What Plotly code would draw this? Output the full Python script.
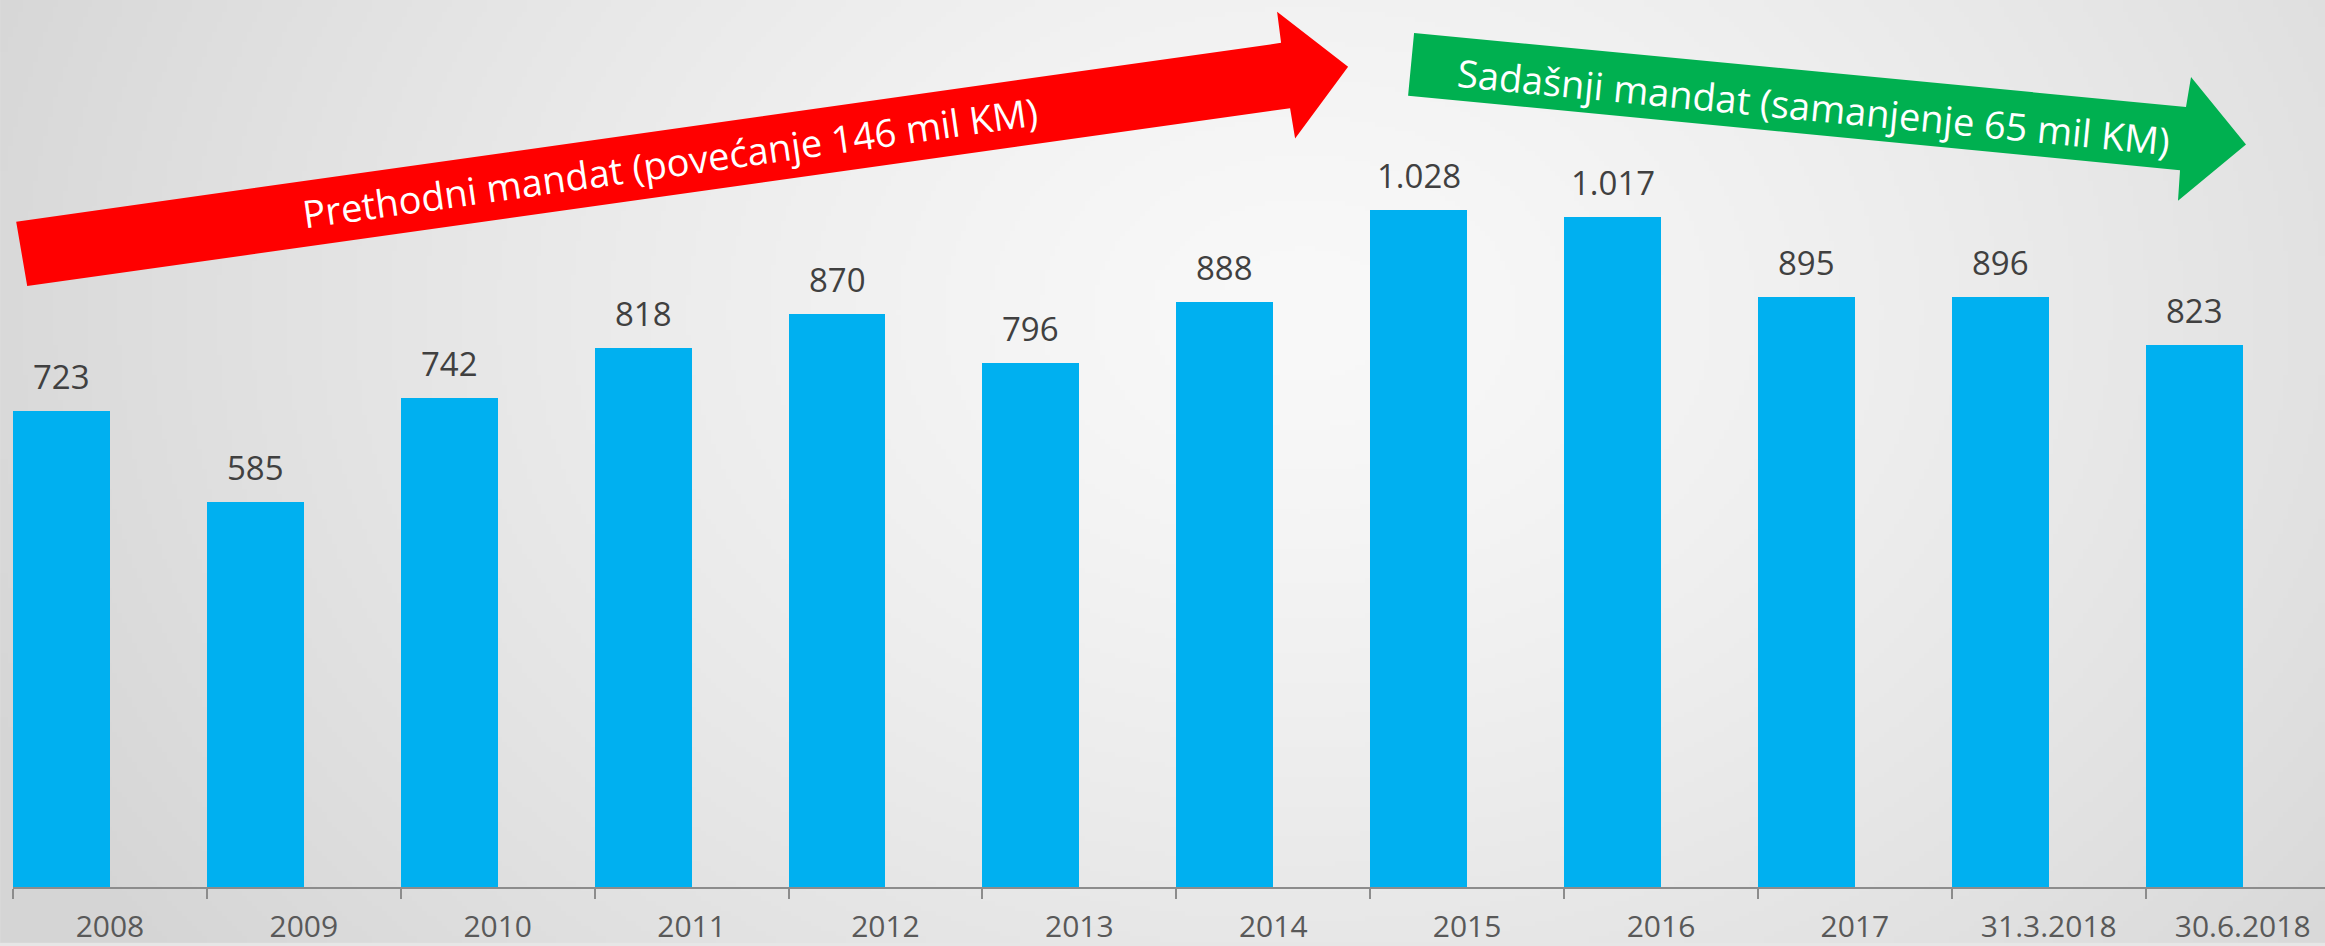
import base64, struct, zlib
import numpy as np
import plotly.graph_objects as go

categories = ["2008", "2009", "2010", "2011", "2012", "2013", "2014", "2015", "2016", "2017", "31.3.2018", "30.6.2018"]
values = [723, 585, 742, 818, 870, 796, 888, 1028, 1017, 895, 896, 823]
arrow_prev_text = "Prethodni mandat (povećanje 146 mil KM)"
arrow_curr_text = "Sadašnji mandat (samanjenje 65 mil KM)"

W, H = 2325, 946
L, B = 12.8, 56
PW, PH = W - L, H - B


def px(xp):
    return (xp - L) / PW


def py(yp):
    return (PH - yp) / PH


# ---- radial gray background as PNG data URI ----
gw, gh = 466, 190
yy, xx = np.mgrid[0:gh, 0:gw]
cx, cy = 0.56 * gw, 0.33 * gh
d = np.sqrt(((xx - cx) / (0.62 * gw)) ** 2 + ((yy - cy) / (1.15 * gh)) ** 2)
d = np.clip(d, 0, 1)
val = (249 - (249 - 213) * d ** 1.3).astype(np.uint8)
img = np.stack([val, val, val], axis=-1)
raw = b"".join(b"\x00" + img[r].tobytes() for r in range(gh))


def chunk(t, data):
    return struct.pack(">I", len(data)) + t + data + struct.pack(">I", zlib.crc32(t + data) & 0xFFFFFFFF)


png = (b"\x89PNG\r\n\x1a\n" + chunk(b"IHDR", struct.pack(">IIBBBBB", gw, gh, 8, 2, 0, 0, 0))
       + chunk(b"IDAT", zlib.compress(raw, 9)) + chunk(b"IEND", b""))
bg_uri = "data:image/png;base64," + base64.b64encode(png).decode()

idx = list(range(len(categories)))

fig = go.Figure()
fig.add_trace(go.Bar(
    x=idx, y=values, width=0.5, offset=-0.5,
    marker=dict(color="#00B0F0", line=dict(width=0)),
    hoverinfo="skip", showlegend=False,
))

# data labels
for i, v in zip(idx, values):
    fig.add_annotation(
        x=i - 0.25, y=v, xref="x", yref="y",
        text=f"{v:,}".replace(",", "."), showarrow=False,
        yanchor="bottom", yshift=10,
        font=dict(family="Open Sans", size=33, color="#404040"),
    )


def path_from(points):
    pts = [(px(a), py(b)) for a, b in points]
    return "M " + " L ".join(f"{a:.5f},{b:.5f}" for a, b in pts) + " Z"


red_pts = [(27, 287), (16, 222.5), (1281, 43), (1277, 11.7), (1348, 67), (1295, 139), (1290, 108.5)]
green_pts = [(1414, 33), (2186, 107.3), (2191, 77.3), (2246, 145), (2178, 201.5), (2180, 170.7), (1408, 96)]

shapes = [
    dict(type="path", path=path_from(red_pts), xref="paper", yref="paper",
         fillcolor="#FF0000", line=dict(width=0), layer="above"),
    dict(type="path", path=path_from(green_pts), xref="paper", yref="paper",
         fillcolor="#00B050", line=dict(width=0), layer="above"),
]

fig.add_annotation(x=px(670), y=py(163), xref="paper", yref="paper", text=arrow_prev_text,
                   showarrow=False, textangle=-8, xanchor="center", yanchor="middle",
                   font=dict(family="Open Sans", size=38, color="white"))
fig.add_annotation(x=px(1813), y=py(106), xref="paper", yref="paper", text=arrow_curr_text,
                   showarrow=False, textangle=5.5, xanchor="center", yanchor="middle",
                   font=dict(family="Open Sans", size=38, color="white"))

fig.update_layout(
    width=W, height=H,
    margin=dict(l=L, r=0, t=0, b=B, pad=0),
    paper_bgcolor="#e6e6e6", plot_bgcolor="rgba(0,0,0,0)",
    shapes=shapes,
    images=[dict(source=bg_uri, xref="paper", yref="paper", x=-L / PW, y=1,
                 sizex=W / PW, sizey=H / PH, sizing="stretch", layer="below",
                 xanchor="left", yanchor="top")],
    bargap=0,
)
fig.update_xaxes(
    range=[-0.5, -0.5 + PW / 193.9],
    tickmode="array", tickvals=idx, ticktext=categories, ticks="",
    tickfont=dict(family="Open Sans", size=30, color="#595959"),
    showline=True, linecolor="#8c8c8c", linewidth=2,
    showgrid=False, zeroline=False,
    minor=dict(tickmode="array", tickvals=[i - 0.5 for i in idx], ticks="outside",
               ticklen=10, tickwidth=2, tickcolor="#8c8c8c", showgrid=False),
    ticklabelstandoff=12,
)
fig.update_yaxes(range=[0, PH / 0.661], visible=False, showgrid=False, zeroline=False)

fig.write_html("out.html", config={"displayModeBar": False},
               post_script="document.body.style.margin='0';document.body.style.overflow='hidden';")
